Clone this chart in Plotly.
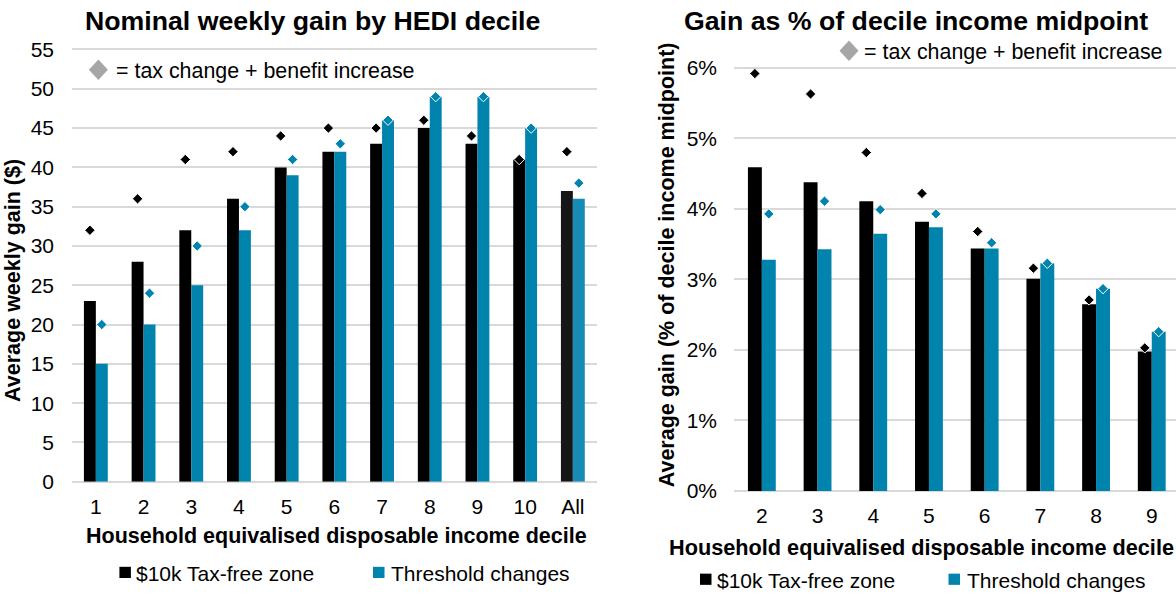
import numpy as np
import plotly.graph_objects as go

W, H = 1176, 600

# Left panel: nominal weekly gain ($) by HEDI decile
deciles_left = ["1", "2", "3", "4", "5", "6", "7", "8", "9", "10", "All"]
tfz_left = [23, 28, 32, 36, 40, 42, 43, 45, 43, 41, 37]
thr_left = [15, 20, 25, 32, 39, 42, 46, 49, 49, 45, 36]
tfz_left_total = [32, 36, 41, 42, 44, 45, 45, 46, 44, 41, 42]
thr_left_total = [20, 24, 30, 35, 41, 43, 46, 49, 49, 45, 38]

# Right panel: gain as % of decile income midpoint
deciles_right = ["2", "3", "4", "5", "6", "7", "8", "9"]
tfz_right = [4.59, 4.38, 4.11, 3.82, 3.44, 3.01, 2.65, 1.98]
thr_right = [3.28, 3.43, 3.65, 3.74, 3.44, 3.23, 2.87, 2.26]
tfz_right_total = [5.92, 5.63, 4.80, 4.22, 3.68, 3.16, 2.71, 2.03]
thr_right_total = [3.93, 4.11, 3.99, 3.93, 3.52, 3.23, 2.87, 2.26]

BLACK = "#000000"
TEAL = "#0083AD"
GRID = "#d9d9d9"
FONT = "Liberation Sans, Arial, sans-serif"
BAR_W = 0.25


def px(x):
    return x / W


def py(y):
    return 1 - y / H


fig = go.Figure()


def add_panel(cats, tfz, thr, tfz_tot, thr_tot, xa, ya, all_shade=False):
    idx = np.arange(len(cats))
    black_cols = [BLACK] * len(cats)
    teal_cols = [TEAL] * len(cats)
    if all_shade:
        black_cols[-1] = "#161616"
        teal_cols[-1] = "#168bb5"
    fig.add_trace(go.Bar(x=idx, y=tfz, width=BAR_W, offset=-BAR_W,
                         marker=dict(color=black_cols, line_width=0),
                         xaxis=xa, yaxis=ya, showlegend=False))
    fig.add_trace(go.Bar(x=idx, y=thr, width=BAR_W, offset=0,
                         marker=dict(color=teal_cols, line_width=0),
                         xaxis=xa, yaxis=ya, showlegend=False))
    fig.add_trace(go.Scatter(x=idx - BAR_W / 2, y=tfz_tot, mode="markers",
                             marker=dict(symbol="diamond", size=8, color=BLACK,
                                         line=dict(color="white", width=1)),
                             xaxis=xa, yaxis=ya, showlegend=False))
    fig.add_trace(go.Scatter(x=idx + BAR_W / 2, y=thr_tot, mode="markers",
                             marker=dict(symbol="diamond", size=8, color=TEAL,
                                         line=dict(color="white", width=1)),
                             xaxis=xa, yaxis=ya, showlegend=False))
    return idx


idx_l = add_panel(deciles_left, tfz_left, thr_left, tfz_left_total,
                  thr_left_total, "x", "y", all_shade=True)
idx_r = add_panel(deciles_right, tfz_right, thr_right, tfz_right_total,
                  thr_right_total, "x2", "y2")

tickfont = dict(family=FONT, size=21, color="#000000")

fig.update_layout(
    width=W, height=H,
    margin=dict(l=0, r=0, t=0, b=0),
    paper_bgcolor="white", plot_bgcolor="white",
    barmode="overlay",
    showlegend=False,
    xaxis=dict(domain=[px(72), px(596.7)], range=[-0.5, len(idx_l) - 0.5],
               tickvals=list(idx_l), ticktext=deciles_left, showgrid=False,
               zeroline=False, showline=False, ticks="", tickfont=tickfont,
               ticklabelstandoff=10, anchor="y", fixedrange=True),
    yaxis=dict(domain=[py(490), py(38.6)], range=[0, 56], tick0=0, dtick=5,
               showgrid=True, gridcolor=GRID, gridwidth=1.5,
               zeroline=True, zerolinecolor=GRID, zerolinewidth=2,
               showline=False, ticks="", tickfont=tickfont,
               ticklabelstandoff=17, anchor="x"),
    xaxis2=dict(domain=[px(734), 1.0], range=[-0.5, (W - 734) / 55.7 - 0.5],
                tickvals=list(idx_r), ticktext=deciles_right, showgrid=False,
                zeroline=False, showline=False, ticks="", tickfont=tickfont,
                ticklabelstandoff=10, anchor="y2"),
    yaxis2=dict(domain=[py(499.5), py(33)], range=[0, 6.45], tick0=0, dtick=1,
                ticksuffix="%", showgrid=True, gridcolor=GRID, gridwidth=1.5,
                zeroline=True, zerolinecolor=GRID, zerolinewidth=2,
                showline=False, ticks="", tickfont=tickfont,
                ticklabelstandoff=16, anchor="x2"),
)

annotations = []
shapes = []


def text(x, y, s, size=21, bold=False, anchor="center", angle=0):
    annotations.append(dict(
        x=px(x), y=py(y), xref="paper", yref="paper",
        text=f"<b>{s}</b>" if bold else s, showarrow=False,
        xanchor=anchor, yanchor="middle", textangle=angle,
        font=dict(family=FONT, size=size, color="#000000")))


def square(x0, yc, color, side=11.5):
    shapes.append(dict(type="rect", xref="paper", yref="paper",
                       x0=px(x0), x1=px(x0 + side),
                       y0=py(yc + side / 2), y1=py(yc - side / 2),
                       fillcolor=color, line_width=0))


def diamond(xc, yc, w=19, h=21, color="#a6a6a6"):
    pts = [(xc, yc - h / 2), (xc + w / 2, yc), (xc, yc + h / 2), (xc - w / 2, yc)]
    path = "M " + " L ".join(f"{px(a):.5f},{py(b):.5f}" for a, b in pts) + " Z"
    shapes.append(dict(type="path", xref="paper", yref="paper", path=path,
                       fillcolor=color, line_width=0))


# Titles
text(312, 17.5, "Nominal weekly gain by HEDI decile", size=26.7, bold=True)
text(916, 17.5, "Gain as % of decile income midpoint", size=26.7, bold=True)

# Diamond notes
diamond(98.4, 67.5)
text(114, 69, "= tax change + benefit increase", size=21.4, anchor="left")
diamond(849, 48)
text(862, 49, "= tax change + benefit increase", size=21.4, anchor="left")

# Axis titles
text(336, 546, "Household equivalised disposable income decile", size=21.5, bold=True)
text(921, 557, "Household equivalised disposable income decile", size=21.7, bold=True)
text(13, 284, "Average weekly gain ($)", size=21.5, bold=True, angle=-90)
text(667, 268, "Average gain (% of decile income midpoint)", size=21.5, bold=True, angle=-90)

# Series keys
square(119.4, 583, BLACK)
text(134, 584, "$10k Tax-free zone", anchor="left")
square(373, 583, TEAL)
text(389, 584, "Threshold changes", anchor="left")
square(700, 590, BLACK)
text(715, 591, "$10k Tax-free zone", anchor="left")
square(948.5, 590, TEAL)
text(965, 591, "Threshold changes", anchor="left")

fig.update_layout(annotations=annotations, shapes=shapes)

fig.write_html("out.html")
